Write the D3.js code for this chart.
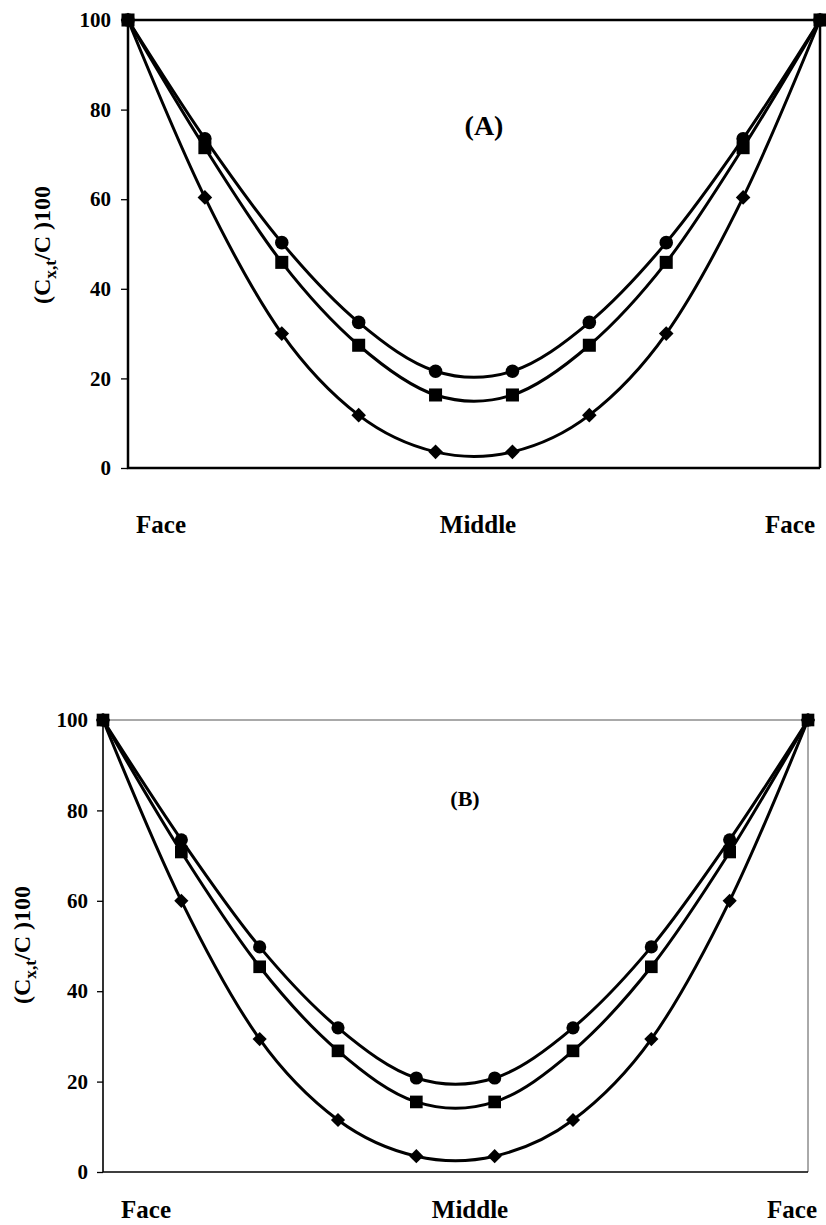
<!DOCTYPE html>
<html>
<head>
<meta charset="utf-8">
<script src="https://cdn.jsdelivr.net/npm/d3@7.9.0/dist/d3.min.js"></script>
<style>
  body { margin: 0; background: #fff; }
  svg text { font-family: "Liberation Serif", "Times New Roman", serif; font-weight: bold; fill: #000; }
</style>
</head>
<body>
<svg id="chart" width="826" height="1225"></svg>
<script>
// positions across the sample, face -> middle -> face
const positions = d3.range(10);
const positionLabels = ['Face', 'Middle', 'Face'];
const yTicks = [0, 20, 40, 60, 80, 100];

// panel A
const circleA = [100, 73.5, 50.3, 32.5, 21.6, 21.6, 32.5, 50.3, 73.5, 100];
const squareA = [100, 71.5, 45.9, 27.4, 16.3, 16.3, 27.4, 45.9, 71.5, 100];
const diamondA = [100, 60.4, 30.0, 11.8, 3.6, 3.6, 11.8, 30.0, 60.4, 100];

// panel B
const circleB = [100, 73.5, 49.8, 31.9, 20.8, 20.8, 31.9, 49.8, 73.5, 100];
const squareB = [100, 70.8, 45.4, 26.8, 15.5, 15.5, 26.8, 45.4, 70.8, 100];
const diamondB = [100, 60.0, 29.4, 11.5, 3.5, 3.5, 11.5, 29.4, 60.0, 100];

let svg = d3.select('#chart');

function drawPanel(cfg) {
    let x = d3.scaleLinear().domain([0, 9]).range([cfg.left, cfg.right]);
    let y = d3.scaleLinear().domain([0, 100]).range([cfg.bottom, cfg.top]);
    let g = svg.append('g');

    // frame: top + right
    g.append('path')
        .attr('d', `M${cfg.left},${cfg.top}H${cfg.right}V${cfg.bottom}`)
        .attr('fill', 'none')
        .attr('stroke', cfg.frameColor)
        .attr('stroke-width', cfg.frameWidth);

    // y axis
    let yAxis = g.append('g')
        .attr('transform', `translate(${cfg.left},0)`)
        .call(d3.axisLeft(y).tickValues(yTicks).tickSize(cfg.tickSize).tickPadding(cfg.tickPad));
    yAxis.select('.domain').remove();
    yAxis.selectAll('line').attr('stroke', '#000').attr('stroke-width', 1.3);
    yAxis.selectAll('text').style('font-size', cfg.tickFont + 'px').attr('fill', '#000');

    // left + bottom axis lines
    g.append('path')
        .attr('d', `M${cfg.left},${cfg.top}V${cfg.bottom}H${cfg.right}`)
        .attr('fill', 'none')
        .attr('stroke', '#000')
        .attr('stroke-width', cfg.axisWidth);

    // y label
    let lab = g.append('text')
        .attr('transform', `translate(${cfg.ylabX},${cfg.ylabY}) rotate(-90)`)
        .attr('text-anchor', 'middle')
        .style('font-size', cfg.ylabFont + 'px');
    lab.append('tspan').text('(C');
    lab.append('tspan').text('x,t').attr('dy', 6).style('font-size', (cfg.ylabFont * 0.72) + 'px');
    lab.append('tspan').text('/C )100').attr('dy', -6);

    // panel letter
    g.append('text')
        .attr('x', cfg.letterX).attr('y', cfg.letterY)
        .attr('text-anchor', 'middle')
        .style('font-size', cfg.letterFont + 'px')
        .text(cfg.letter);

    // x labels
    let labelX = [cfg.faceL, cfg.mid, cfg.faceR];
    positionLabels.forEach((t, i) => {
        g.append('text')
            .attr('x', labelX[i]).attr('y', cfg.xlabY)
            .attr('text-anchor', 'middle')
            .style('font-size', '25px')
            .text(t);
    });

    let line = d3.line()
        .x((d, i) => x(positions[i]))
        .y((d) => y(d))
        .curve(d3.curveCatmullRom.alpha(0));

    let series = [
        { values: cfg.diamond, symbol: d3.symbolDiamond2, size: cfg.mk * 0.8 },
        { values: cfg.circle, symbol: d3.symbolCircle, size: cfg.mk * 0.85 },
        { values: cfg.square, symbol: d3.symbolSquare, size: cfg.mk }
    ];

    series.forEach((s) => {
        g.append('path')
            .attr('d', line(s.values))
            .attr('fill', 'none')
            .attr('stroke', '#000')
            .attr('stroke-width', 3);
    });
    series.forEach((s) => {
        g.selectAll(null)
            .data(s.values)
            .join('path')
            .attr('transform', (d, i) => `translate(${x(positions[i])},${y(d)})`)
            .attr('d', d3.symbol().type(s.symbol).size(s.size))
            .attr('fill', '#000');
    });
}

drawPanel({
    left: 128, right: 820, top: 20, bottom: 468,
    frameColor: '#000', frameWidth: 2.5, axisWidth: 2.5,
    tickSize: 7, tickPad: 10, tickFont: 21,
    ylabX: 50, ylabY: 245, ylabFont: 24,
    letter: '(A)', letterX: 484, letterY: 135, letterFont: 28,
    faceL: 161, mid: 478, faceR: 790, xlabY: 533,
    circle: circleA, square: squareA, diamond: diamondA,
    mk: 170
});

drawPanel({
    left: 103, right: 808, top: 720, bottom: 1172,
    frameColor: '#555', frameWidth: 1, axisWidth: 1.6,
    tickSize: 6, tickPad: 9, tickFont: 21,
    ylabX: 30, ylabY: 945, ylabFont: 24,
    letter: '(B)', letterX: 465, letterY: 806, letterFont: 22,
    faceL: 146, mid: 470, faceR: 792, xlabY: 1218,
    circle: circleB, square: squareB, diamond: diamondB,
    mk: 160
});
</script>
</body>
</html>
